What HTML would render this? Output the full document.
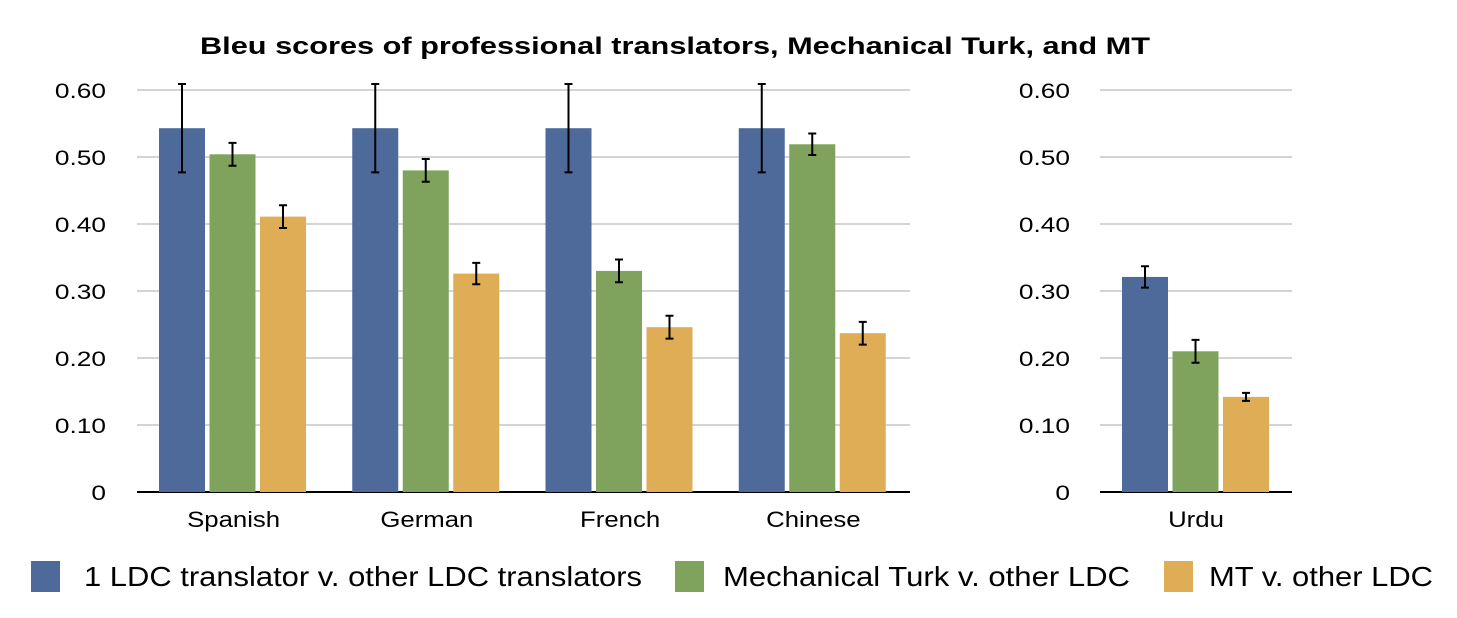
<!DOCTYPE html>
<html><head><meta charset="utf-8"><style>
body{margin:0;background:#fff;width:1457px;height:613px;overflow:hidden;font-family:"Liberation Sans",Arial,sans-serif}
</style></head><body>
<svg id="chart" width="1457" height="613" xmlns="http://www.w3.org/2000/svg" font-family="Liberation Sans, Arial, sans-serif">
<text x="200" y="54" font-size="24" font-weight="bold" textLength="950" lengthAdjust="spacingAndGlyphs">Bleu scores of professional translators, Mechanical Turk, and MT</text>
<g id="left"></g><g id="right"></g>
<g>
<rect x="31" y="561" width="29" height="31" fill="#4e6a9b"/>
<text x="84" y="586" font-size="28" textLength="558" lengthAdjust="spacingAndGlyphs">1 LDC translator v. other LDC translators</text>
<rect x="675" y="561" width="29" height="31" fill="#7fa35c"/>
<text x="723" y="586" font-size="28" textLength="407" lengthAdjust="spacingAndGlyphs">Mechanical Turk v. other LDC</text>
<rect x="1164" y="561" width="29" height="31" fill="#dfad56"/>
<text x="1209" y="586" font-size="28" textLength="224" lengthAdjust="spacingAndGlyphs">MT v. other LDC</text>
</g>
</svg>
<script>
const categories=["Spanish","German","French","Chinese","Urdu"];
const ldcValues=[0.543,0.543,0.543,0.543,0.321];
const ldcErr=[0.066,0.066,0.066,0.066,0.016];
const turkValues=[0.504,0.480,0.330,0.519,0.210];
const turkErr=[0.017,0.017,0.017,0.016,0.017];
const mtValues=[0.411,0.326,0.246,0.237,0.142];
const mtErr=[0.017,0.016,0.017,0.017,0.006];
const yTicks=[0,0.1,0.2,0.3,0.4,0.5,0.6];
const yTickLabels=["0","0.10","0.20","0.30","0.40","0.50","0.60"];
const NS="http://www.w3.org/2000/svg";
const y0=492,yTop=90;
function yScale(v){return y0-(v/0.6)*(y0-yTop);}
function mk(tag,attrs,parent,text){const e=document.createElementNS(NS,tag);for(const k in attrs)e.setAttribute(k,attrs[k]);if(text!==undefined)e.textContent=text;parent.appendChild(e);return e;}
function stretch(t,f){const w=t.getComputedTextLength();if(w>0){t.setAttribute("textLength",w*f);t.setAttribute("lengthAdjust","spacingAndGlyphs");}}
const series=[[ldcValues,ldcErr,"#4e6a9b","ldc"],[turkValues,turkErr,"#7fa35c","turk"],[mtValues,mtErr,"#dfad56","mt"]];
function panel(g,x0,x1,labelX,idxs){
  yTicks.forEach((t,i)=>{
    const y=yScale(t);
    const l=mk("line",{x1:x0,x2:x1,y1:y,y2:y,stroke:t===0?"#000":"#bbb","stroke-width":t===0?2:1.3},g);
    
    
    const tx=mk("text",{x:labelX,y:y+8,"text-anchor":"end","font-size":21},g,yTickLabels[i]);
    
    
    stretch(tx,1.25);
  });
  const gw=(x1-x0)/idxs.length;
  idxs.forEach((ci,k)=>{
    const gx=x0+k*gw;
    series.forEach((s,si)=>{
      const bx=gx+22+si*50.5,bw=46;
      const v=s[0][ci],e=s[1][ci];
      const r=mk("rect",{x:bx,y:yScale(v),width:bw,height:y0-yScale(v),fill:s[2]},g);
      
      
      const cx=bx+bw/2,yh=yScale(v+e),yl=yScale(v-e);
      const eb=mk("path",{d:`M${cx} ${yh}V${yl}M${cx-4} ${yh}H${cx+4}M${cx-4} ${yl}H${cx+4}`,stroke:"#000","stroke-width":2,fill:"none"},g);
      
      
    });
    const c=mk("text",{x:gx+gw/2,y:527,"text-anchor":"middle","font-size":22},g,categories[ci]);
    
    
    stretch(c,1.17);
  });
}
panel(document.getElementById("left"),137,910,106,[0,1,2,3]);
panel(document.getElementById("right"),1100,1292,1070,[4]);
</script>
</body></html>
